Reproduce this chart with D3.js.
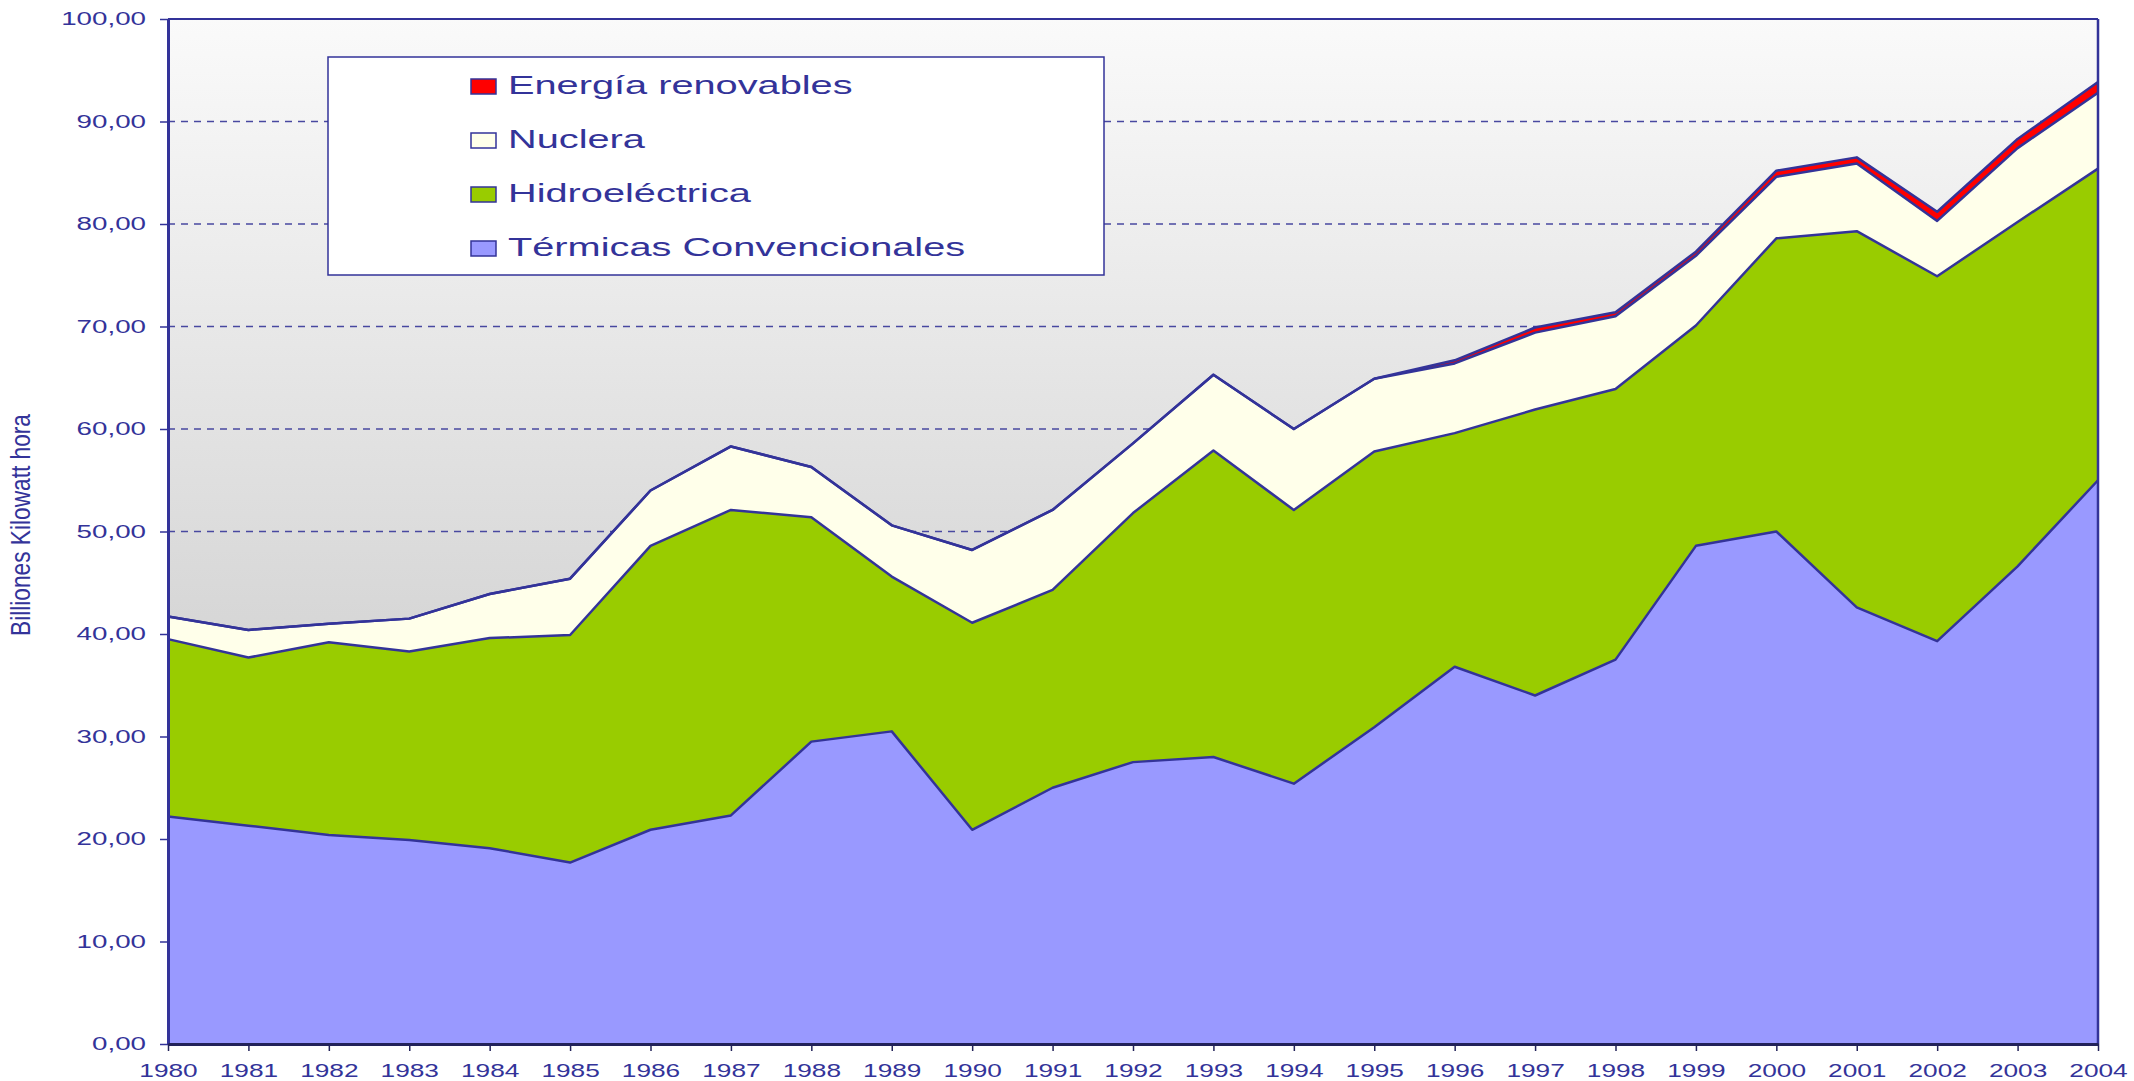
<!DOCTYPE html>
<html>
<head>
<meta charset="utf-8">
<script src="https://cdn.jsdelivr.net/npm/d3@7"></script>
<style>
  body { margin: 0; background: #fff; }
  svg text { font-family: "Liberation Sans", Arial, sans-serif; fill: #333399; }
</style>
</head>
<body>
<div id="container"></div>
<script>
// Data (billions of kWh)
const years = [1980, 1981, 1982, 1983, 1984, 1985, 1986, 1987, 1988, 1989, 1990, 1991,
  1992, 1993, 1994, 1995, 1996, 1997, 1998, 1999, 2000, 2001, 2002, 2003, 2004];
const termicas = [22.2, 21.3, 20.4, 19.9, 19.1, 17.7, 20.9, 22.3, 29.5, 30.5, 20.9, 25.0,
  27.5, 28.0, 25.4, 30.9, 36.8, 34.0, 37.5, 48.6, 50.0, 42.6, 39.3, 46.6, 55.0];
const hidro = [17.3, 16.4, 18.8, 18.4, 20.5, 22.2, 27.7, 29.8, 21.9, 15.1, 20.2, 19.3,
  24.3, 29.9, 26.7, 26.9, 22.8, 27.9, 26.4, 21.5, 28.6, 36.7, 35.6, 33.6, 30.4];
const nuclear = [2.2, 2.7, 1.8, 3.2, 4.3, 5.5, 5.4, 6.2, 4.9, 5.0, 7.1, 7.8,
  6.8, 7.4, 7.9, 7.1, 6.8, 7.5, 7.1, 6.8, 6.0, 6.6, 5.4, 7.2, 7.4];
const renovables = [0, 0, 0, 0, 0, 0, 0, 0, 0, 0, 0, 0,
  0, 0, 0, 0, 0.3, 0.5, 0.4, 0.4, 0.6, 0.6, 0.9, 0.9, 1.05];

const seriesKeys = ["Térmicas Convencionales", "Hidroeléctrica", "Nuclera", "Energía renovables"];
const seriesColors = ["#9999ff", "#99cc00", "#ffffea", "#ff0000"];
const yTicks = [0, 10, 20, 30, 40, 50, 60, 70, 80, 90, 100];
const gridTicks = [10, 20, 30, 40, 50, 60, 70, 80, 90];

const W = 2134, H = 1081;
const plot = { left: 168, right: 2098, top: 19, bottom: 1044 };
const SX = 1.5; // the original chart's text is stretched horizontally

const rows = years.map((yr, i) => ({
  year: yr,
  "Térmicas Convencionales": termicas[i],
  "Hidroeléctrica": hidro[i],
  "Nuclera": nuclear[i],
  "Energía renovables": renovables[i]
}));

const x = d3.scaleLinear().domain([1980, 2004]).range([plot.left, plot.right]);
const y = d3.scaleLinear().domain([0, 100]).range([plot.bottom, plot.top]);
const color = d3.scaleOrdinal().domain(seriesKeys).range(seriesColors);

const svg = d3.select("#container").append("svg")
  .attr("width", W).attr("height", H);

// plot background gradient
const defs = svg.append("defs");
const grad = defs.append("linearGradient").attr("id", "bg")
  .attr("x1", 0).attr("y1", 0).attr("x2", 0).attr("y2", 1);
grad.append("stop").attr("offset", "0%").attr("stop-color", "#fafafa");
grad.append("stop").attr("offset", "100%").attr("stop-color", "#bebebe");

svg.append("rect")
  .attr("x", plot.left).attr("y", plot.top)
  .attr("width", plot.right - plot.left).attr("height", plot.bottom - plot.top)
  .attr("fill", "url(#bg)");

// dashed gridlines
svg.append("g").selectAll("line")
  .data(gridTicks)
  .join("line")
  .attr("x1", plot.left).attr("x2", plot.right)
  .attr("y1", d => y(d)).attr("y2", d => y(d))
  .attr("stroke", "#4848a0")
  .attr("stroke-width", 1.3)
  .attr("stroke-dasharray", "7,6");

// stacked areas
const stack = d3.stack().keys(seriesKeys);
const layers = stack(rows);

const area = d3.area()
  .x(d => x(d.data.year))
  .y0(d => y(d[0]))
  .y1(d => y(d[1]));

const line = d3.line()
  .x(d => x(d.data.year))
  .y(d => y(d[1]));

svg.append("g").selectAll("path")
  .data(layers)
  .join("path")
  .attr("d", area)
  .attr("fill", d => color(d.key));

svg.append("g").selectAll("path")
  .data(layers)
  .join("path")
  .attr("d", line)
  .attr("fill", "none")
  .attr("stroke", "#333399")
  .attr("stroke-width", 2.5)
  .attr("stroke-linejoin", "round");

// plot frame: top and right
svg.append("line")
  .attr("x1", plot.left).attr("x2", plot.right)
  .attr("y1", plot.top).attr("y2", plot.top)
  .attr("stroke", "#333399").attr("stroke-width", 2);
svg.append("line")
  .attr("x1", plot.right).attr("x2", plot.right)
  .attr("y1", plot.top).attr("y2", plot.bottom)
  .attr("stroke", "#333399").attr("stroke-width", 2.5);

// y axis
const fmt = d3.formatLocale({ decimal: ",", thousands: ".", grouping: [3], currency: ["", ""] }).format(".2f");
const yAxis = svg.append("g")
  .attr("transform", `translate(${plot.left},0)`)
  .call(d3.axisLeft(y).tickValues(yTicks).tickFormat(fmt).tickSize(8).tickSizeOuter(0));
yAxis.select(".domain").attr("stroke", "#333399").attr("stroke-width", 3);
yAxis.selectAll(".tick line").attr("stroke", "#333399").attr("stroke-width", 1.5);
yAxis.selectAll(".tick text")
  .attr("x", -22 / SX)
  .attr("transform", `scale(${SX},1)`)
  .attr("font-size", 18.5)
  .style("fill", "#333399");

// x axis
const xAxis = svg.append("g")
  .attr("transform", `translate(0,${plot.bottom})`)
  .call(d3.axisBottom(x).tickValues(years).tickFormat(d3.format("d")).tickSize(7).tickSizeOuter(0));
xAxis.select(".domain").attr("stroke", "#22225a").attr("stroke-width", 3);
xAxis.selectAll(".tick line").attr("stroke", "#22225a").attr("stroke-width", 1.5);
xAxis.selectAll(".tick text")
  .attr("y", 33).attr("dy", null)
  .attr("transform", `scale(${SX},1)`)
  .attr("font-size", 17.5)
  .style("fill", "#333399");

// y axis title (condensed in the original)
svg.append("text")
  .attr("transform", "translate(30,525) rotate(-90)")
  .attr("text-anchor", "middle")
  .attr("font-size", 27)
  .attr("textLength", 222)
  .attr("lengthAdjust", "spacingAndGlyphs")
  .text("Billiones Kilowatt hora");

// legend
const legend = svg.append("g");
legend.append("rect")
  .attr("x", 328).attr("y", 57)
  .attr("width", 1104 - 328).attr("height", 275 - 57)
  .attr("fill", "#ffffff")
  .attr("stroke", "#333399").attr("stroke-width", 1.5);

const legendOrder = seriesKeys.slice().reverse();
const item = legend.selectAll("g.item")
  .data(legendOrder)
  .join("g")
  .attr("class", "item")
  .attr("transform", (d, i) => `translate(0,${94 + i * 54})`);

item.append("rect")
  .attr("x", 471).attr("y", -15)
  .attr("width", 25).attr("height", 15)
  .attr("fill", d => color(d))
  .attr("stroke", "#333399").attr("stroke-width", 1.5);

item.append("text")
  .attr("transform", `translate(508,0) scale(${SX},1)`)
  .attr("font-size", 26.5)
  .text(d => d);
</script>
</body>
</html>
